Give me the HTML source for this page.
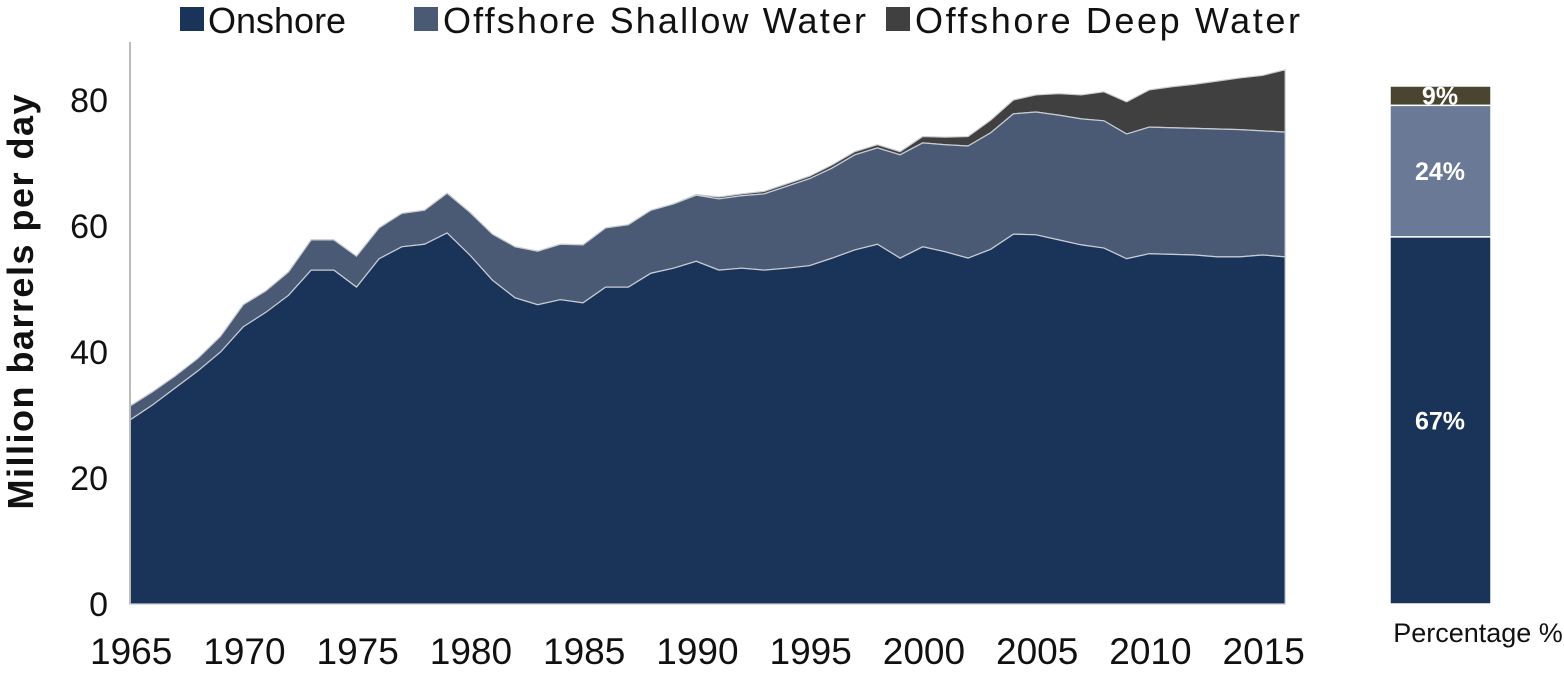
<!DOCTYPE html>
<html><head><meta charset="utf-8"><style>
body{margin:0;background:#fff;font-family:"Liberation Sans",sans-serif}
svg text{font-family:"Liberation Sans",sans-serif}
</style></head><body>
<svg width="1564" height="668" viewBox="0 0 1564 668">
<g id="plot"></g>
<g id="axes"></g>
<g font-size="36" fill="#111">
<rect x="180" y="7" width="24" height="24" fill="#1a3358"/>
<text x="208" y="33">Onshore</text>
<rect x="414" y="7" width="24" height="24" fill="#4a5a75"/>
<text x="443" y="33" textLength="423">Offshore Shallow Water</text>
<rect x="886" y="7" width="24" height="24" fill="#404040"/>
<text x="915" y="33" textLength="385">Offshore Deep Water</text>
</g>
<text transform="translate(33,302) rotate(-90)" text-anchor="middle" font-size="36" font-weight="bold" fill="#111" textLength="415">Million barrels per day</text>
<g id="pct"></g>
<text x="1478" y="642" text-anchor="middle" font-size="27" fill="#111">Percentage %</text>
</svg>
<script>
const years=[];for(let y=1965;y<=2016;y++)years.push(y);
const onshore=[29.2,31.6,34.3,37,40,44,46.3,49,53,53,50.3,54.8,56.7,57.1,58.9,55.4,51.4,48.6,47.5,48.3,47.8,50.3,50.3,52.5,53.3,54.4,53,53.3,53,53.3,53.7,54.9,56.2,57.1,54.9,56.7,55.9,54.9,56.3,58.7,58.6,57.8,57,56.5,54.8,55.6,55.5,55.4,55.1,55.1,55.4,55.1];
const totalShallow=[31.4,33.7,36.2,39,42.5,47.5,49.7,52.7,57.8,57.8,55.2,59.7,62,62.5,65.2,62.2,58.7,56.7,56,57.1,57,59.7,60.2,62.5,63.5,64.9,64.3,64.8,65.1,66.3,67.5,69.2,71.3,72.4,71.3,73.2,72.9,72.7,74.8,77.8,78.1,77.6,77,76.7,74.6,75.7,75.6,75.5,75.4,75.3,75.1,74.9];
const shallow=totalShallow.map((t,i)=>+(t-onshore[i]).toFixed(2));
const deep=[0,0,0,0,0,0,0,0,0,0,0,0,0,0,0,0,0,0,0,0,0,0,0,0,0,0.1,0.3,0.3,0.4,0.4,0.4,0.5,0.5,0.5,0.5,1,1.2,1.5,2,2.2,2.7,3.4,3.8,4.6,5.1,5.9,6.5,7,7.6,8.2,8.8,9.9];
const yTicks=[0,20,40,60,80];
const xTicks=[1965,1970,1975,1980,1985,1990,1995,2000,2005,2010,2015];
const pctLabels=["67%","24%","9%"];const pctValues=[67,24,9];
const NS="http://www.w3.org/2000/svg";
const X=y=>130+(y-1965)*22.65, Y=v=>604-v*6.3;
function mk(t,a,p){const e=document.createElementNS(NS,t);for(const k in a)e.setAttribute(k,a[k]);p.appendChild(e);return e;}
const plot=document.getElementById('plot'),axes=document.getElementById('axes');
function area(lo,hi,fill,name){
  let d='M'+X(years[0])+','+Y(hi[0]);
  years.forEach((y,i)=>d+=' L'+X(y)+','+Y(hi[i]));
  for(let i=years.length-1;i>=0;i--)d+=' L'+X(years[i])+','+Y(lo[i]);
  const p=mk('path',{d:d+'Z',fill:fill,stroke:'#c8ccd4','stroke-width':1.2},plot);
  
  
}
const zero=years.map(()=>0);
const top2=onshore.map((v,i)=>v+shallow[i]);
const top3=top2.map((v,i)=>v+deep[i]);
area(top2,top3,'#404040','area-deep-water');
area(onshore,top2,'#4a5a75','area-shallow-water');
area(zero,onshore,'#1a3358','area-onshore');
const ax=mk('line',{x1:130,y1:42,x2:130,y2:604,stroke:'#bbb','stroke-width':2},axes);


yTicks.forEach(v=>{const t=mk('text',{x:108,y:Y(v)+12,'text-anchor':'end','font-size':34,fill:'#111'},axes);t.textContent=v;

});
xTicks.forEach(v=>{const t=mk('text',{x:X(v)-90+Math.round(0),y:664,'font-size':37,fill:'#111'},axes);t.setAttribute('x',X(v)-40);t.textContent=v;

});
const pg=document.getElementById('pct');const colors=['#1a3358','#6a7a96','#4a4530'];
let base=604;const sc=5.48;
pctValues.forEach((v,i)=>{let h=v*sc;if(base-h<86)h=base-86;
 const r=mk('rect',{x:1390,y:base-h,width:101,height:h,fill:colors[i],stroke:'#fff','stroke-width':1.5},pg);
 
 
 const t=mk('text',{x:1440,y:base-h/2+9,'text-anchor':'middle','font-size':25,'font-weight':'bold',fill:'#fff'},pg);t.textContent=pctLabels[i];
 
 
 base-=h;});
</script>
</body></html>
